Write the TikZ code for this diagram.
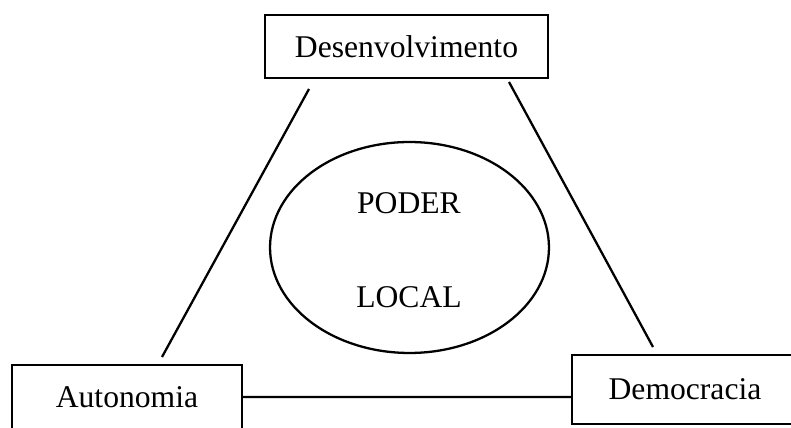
\documentclass[tikz,border=0pt]{standalone}
\usepackage{fontspec}
\setmainfont{Liberation Serif}
\usepackage{tikz}
\usetikzlibrary{
    shapes.geometric,
    calc,
    positioning
}
\tikzset{pbox/.style={draw=black, line width=1.3pt, inner sep=0pt, font=\fontsize{18}{22}\selectfont}}
\tikzset{pell/.style={ellipse, draw=black, line width=1.3pt, inner sep=0pt, minimum width=5.58cm, minimum height=4.22cm}}
\tikzset{ptxt/.style={inner sep=0pt, font=\fontsize{18}{22}\selectfont}}

\begin{document}
\begin{tikzpicture}[x=0.02cm, y=-0.02cm]
                        \useasboundingbox (0, 0) rectangle (791, 428);

                        \node[pbox, minimum width=5.66cm, minimum height=1.26cm] (des) at (406.5, 46.5) {Desenvolvimento};
                        \node[pbox, minimum width=4.6cm, minimum height=1.28cm] (aut) at (127, 397) {Autonomia};
                        \node[pbox, minimum width=4.52cm, minimum height=1.38cm] (dem) at (685, 389.5) {Democracia};
                        \node[pell] (pl) at (409.5, 247.5) {};
                        \node[ptxt] (poder) at (409, 203) {PODER};
                        \node[ptxt] (local) at (409, 297.5) {LOCAL};

                        \coordinate (desl) at (309, 89);
                        \coordinate (desr) at (509, 82);
                        \coordinate (autt) at (162, 357);
                        \coordinate (demt) at (653, 347);

                        \draw[line width=1.3pt]
                        (desl) -- (autt)
                        (desr) -- (demt)
                        (aut.east) -- (aut.east -| dem.west);
                    \end{tikzpicture}
\end{document}
